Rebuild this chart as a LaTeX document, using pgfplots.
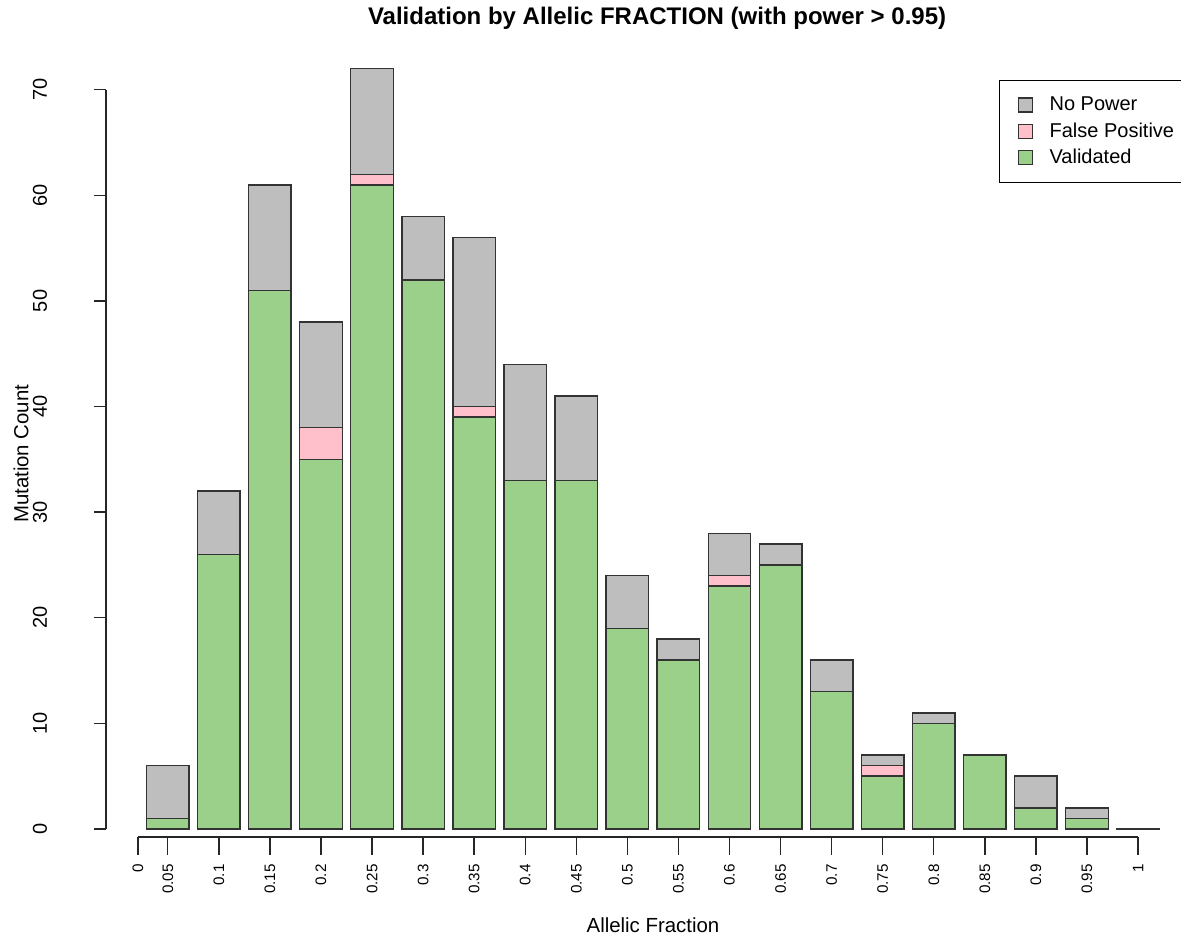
\documentclass[border=0pt]{standalone}
\usepackage{fontspec}
\setmainfont{Liberation Sans}
\usepackage{pgfplots}
\usepackage{pgfplotstable}
\pgfplotsset{compat=1.18}

\definecolor{npgrey}{HTML}{BEBEBE}
\definecolor{fppink}{HTML}{FFC0CB}
\definecolor{valgreen}{RGB}{155,208,138}

% bar centres follow barplot spacing: 0.7 + 1.2*(i-1)
\pgfplotstableread{
x    green pink grey
0.7   1  0  5
1.9  26  0  6
3.1  51  0 10
4.3  35  3 10
5.5  61  1 10
6.7  52  0  6
7.9  39  1 16
9.1  33  0 11
10.3 33  0  8
11.5 19  0  5
12.7 16  0  2
13.9 23  1  4
15.1 25  0  2
16.3 13  0  3
17.5  5  1  1
18.7 10  0  1
19.9  7  0  0
21.1  2  0  3
22.3  1  0  1
23.5  0.001  0  0
}\afdata

\pgfplotsset{sqlegend/.style={legend image code/.code={%
  \path[draw=none, fill=none] (0pt,0pt) -- (23pt,0pt);
  \draw[##1,line width=0.7pt] (9.5pt,-3.5pt) rectangle (16.5pt,3.5pt);}}}

\begin{document}
\begin{tikzpicture}
\begin{axis}[
  name=ax,
  scale only axis,
  width=537.5pt, height=400pt,
  xmin=-0.752, xmax=24.51,
  ymin=-0.76, ymax=75,
  axis line style={draw=none},
  clip=false,
  ybar stacked, bar width=1,
  ytick={0,10,20,30,40,50,60,70},
  ytick pos=left, xtick pos=bottom,
  tick align=outside,
  major tick length=6pt,
  ytick style={black!85, line width=0.7pt},
  xtick style={draw=none},
  xtick={0,0.7,1.9,3.1,4.3,5.5,6.7,7.9,9.1,10.3,11.5,12.7,13.9,15.1,16.3,17.5,18.7,19.9,21.1,22.3,23.5},
  xticklabels={0,0.05,0.1,0.15,0.2,0.25,0.3,0.35,0.4,0.45,0.5,0.55,0.6,0.65,0.7,0.75,0.8,0.85,0.9,0.95,1},
  /pgf/number format/assume math mode=true,
  yticklabel={\pgfmathprintnumber{\tick}},
  yticklabel style={xshift=-27pt, rotate=90, anchor=center, inner sep=0pt, font=\fontsize{10}{12}\selectfont},
  xticklabel style={yshift=-7.5pt, rotate=90, anchor=east, inner sep=0pt, font=\fontsize{7.6}{9}\selectfont},
  title={Validation by Allelic FRACTION (with power > 0.95)},
  title style={at={(axis description cs:0.5126,1)}, anchor=center, yshift=3.5pt, font=\bfseries\fontsize{12}{14}\selectfont},
  xlabel={Allelic Fraction},
  xlabel style={at={(axis description cs:0.5088,0)}, anchor=center, yshift=-44pt, font=\fontsize{10.2}{12}\selectfont},
  ylabel={Mutation Count},
  ylabel style={at={(axis description cs:0,0.479)}, anchor=center, yshift=42.5pt, font=\fontsize{10.2}{12}\selectfont},
  reverse legend,
  legend cell align=left,
  legend style={at={(axis description cs:0.8307,0.946)}, anchor=north west, draw=black, line width=0.6pt,
    font=\fontsize{10}{12}\selectfont, inner xsep=0pt, inner ysep=6pt, row sep=0.5pt},
]
\addplot[fill=valgreen, draw=black!80, line width=0.7pt, sqlegend] table[x=x, y=green]{\afdata};
\addlegendentry{Validated}
\addplot[fill=fppink, draw=black!80, line width=0.7pt, sqlegend] table[x=x, y=pink]{\afdata};
\addlegendentry{False Positive\hspace*{10pt}}
\addplot[fill=npgrey, draw=black!80, line width=0.7pt, sqlegend] table[x=x, y=grey]{\afdata};
\addlegendentry{No Power}

% axis lines spanning only the data range, as barplot draws them
\draw[line width=0.7pt, black!85] (axis cs:0,-0.76) -- (axis cs:23.5,-0.76);
\draw[line width=0.7pt, black!85] (axis cs:-0.752,0) -- (axis cs:-0.752,70);
\pgfplotsinvokeforeach{0,0.7,1.9,3.1,4.3,5.5,6.7,7.9,9.1,10.3,11.5,12.7,13.9,15.1,16.3,17.5,18.7,19.9,21.1,22.3,23.5}{
  \draw[line width=0.7pt, black!85] (axis cs:#1,-0.76) -- ([yshift=-9pt]axis cs:#1,-0.76);
}
\end{axis}
\pgfresetboundingbox
\path[use as bounding box] ([xshift=-53pt,yshift=-49.5pt]ax.south west) rectangle ([yshift=18.5pt]ax.north east);
\end{tikzpicture}
\end{document}
